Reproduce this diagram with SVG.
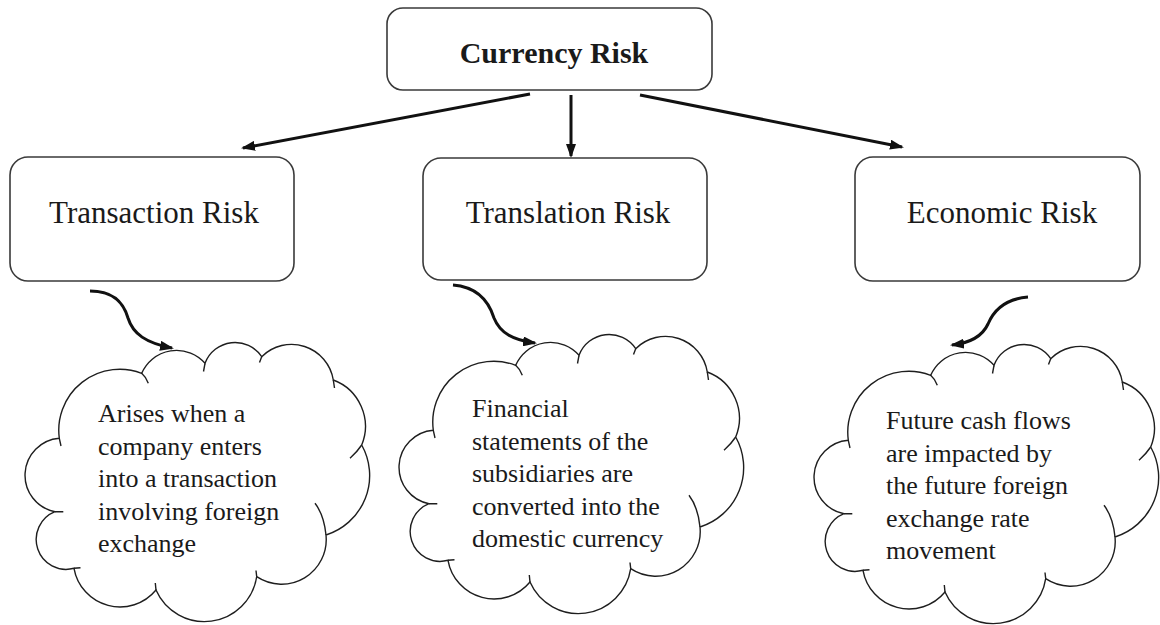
<svg xmlns="http://www.w3.org/2000/svg" xmlns:xlink="http://www.w3.org/1999/xlink" width="1160" height="625" viewBox="0 0 1160 625">
  <style>
    .box { fill: #ffffff; stroke: #3a3a3a; stroke-width: 1.6; }
    .cloud { fill: #ffffff; stroke: #1e1e1e; stroke-width: 1.4; }
    .tail { fill: none; stroke: #1e1e1e; stroke-width: 1.4; }
    .title { font-family: "Liberation Serif", "Times New Roman", serif; font-size: 31px; fill: #1a1a1a; text-anchor: middle; }
    .head { font-weight: bold; font-size: 30px; }
    .note { font-family: "Liberation Serif", "Times New Roman", serif; font-size: 26px; fill: #1a1a1a; }
    .link { fill: none; stroke: #111111; stroke-width: 3; marker-end: url(#tip); }
  </style>
  <defs>
    <marker id="tip" viewBox="0 0 14 10" refX="12" refY="5" markerWidth="14" markerHeight="10" markerUnits="userSpaceOnUse" orient="auto">
      <path d="M0,0 L14,5 L0,10 Z" fill="#111111"/>
    </marker>
    <!-- cloud outline: eleven circular bumps, drawn clockwise -->
    <g id="cloud">
      <path class="cloud" d="M55,511.7 A37.1,37.1 0 0 1 59.3,438.3 A61,61 0 0 1 141.7,373.3 A37.9,37.9 0 0 1 205,363.3 A32.1,32.1 0 0 1 261.7,356.7 A42.3,42.3 0 0 1 333.3,380 A49.4,49.4 0 0 1 361.7,445 A62.4,62.4 0 0 1 326,535 A44.7,44.7 0 0 1 256.7,576.7 A52.9,52.9 0 0 1 156,590 A46.7,46.7 0 0 1 74,568.3 A29.9,29.9 0 0 1 55,511.7 Z"/>
      <!-- short inner strokes where the bumps meet -->
      <path class="tail" d="M59.3,438.3 L61,446 M141.7,373.3 Q146,377 148.3,383.3 M205,363.3 L203.5,371.5 M261.7,356.7 L259.5,362.5 M333.3,380 L334.5,388 M361.7,445 Q357,452 350,458.3 M326,535 Q324,515 315,503.3 M256.7,576.7 L256,570.5 M156,590 L155.3,583 M74,568.3 L80.5,567.8 M55,511.7 L63.3,511.7"/>
    </g>
  </defs>

  <rect width="1160" height="625" fill="#ffffff"/>

  <!-- connectors -->
  <g id="connectors">
    <path class="link" d="M530,94 L243,148"/>
    <path class="link" d="M571,95 L571,156"/>
    <path class="link" d="M640,95 L902,147"/>
    <path class="link" d="M90,291 C115,291 124,304 128,318 C133,334 146,343 172,348"/>
    <path class="link" d="M453,285 C478,287 489,302 494,318 C500,333 513,340 535,343"/>
    <path class="link" d="M1028,297 C1004,299 993,312 988,324 C982,337 970,343 952,345"/>
  </g>

  <g id="currency-risk">
    <rect class="box" x="387" y="8" width="325" height="82" rx="16"/>
    <text class="title head" x="554" y="63">Currency Risk</text>
  </g>

  <g id="transaction-risk">
    <rect class="box" x="10" y="157" width="284" height="124" rx="18"/>
    <text class="title" x="154" y="223">Transaction Risk</text>
  </g>

  <g id="translation-risk">
    <rect class="box" x="423" y="158" width="284" height="122" rx="18"/>
    <text class="title" x="568" y="223">Translation Risk</text>
  </g>

  <g id="economic-risk">
    <rect class="box" x="855" y="157" width="285" height="124" rx="18"/>
    <text class="title" x="1002" y="223">Economic Risk</text>
  </g>

  <g id="transaction-note">
    <use xlink:href="#cloud" href="#cloud"/>
    <text class="note">
      <tspan x="98" y="422">Arises when a</tspan>
      <tspan x="98" y="454.5">company enters</tspan>
      <tspan x="98" y="487">into a transaction</tspan>
      <tspan x="98" y="519.5">involving foreign</tspan>
      <tspan x="98" y="552">exchange</tspan>
    </text>
  </g>

  <g id="translation-note">
    <use xlink:href="#cloud" href="#cloud" transform="translate(374,-8)"/>
    <text class="note">
      <tspan x="472" y="417">Financial</tspan>
      <tspan x="472" y="449.5">statements of the</tspan>
      <tspan x="472" y="482">subsidiaries are</tspan>
      <tspan x="472" y="514.5">converted into the</tspan>
      <tspan x="472" y="547">domestic currency</tspan>
    </text>
  </g>

  <g id="economic-note">
    <use xlink:href="#cloud" href="#cloud" transform="translate(789,2)"/>
    <text class="note">
      <tspan x="886" y="429">Future cash flows</tspan>
      <tspan x="886" y="461.5">are impacted by</tspan>
      <tspan x="886" y="494">the future foreign</tspan>
      <tspan x="886" y="526.5">exchange rate</tspan>
      <tspan x="886" y="559">movement</tspan>
    </text>
  </g>
</svg>
